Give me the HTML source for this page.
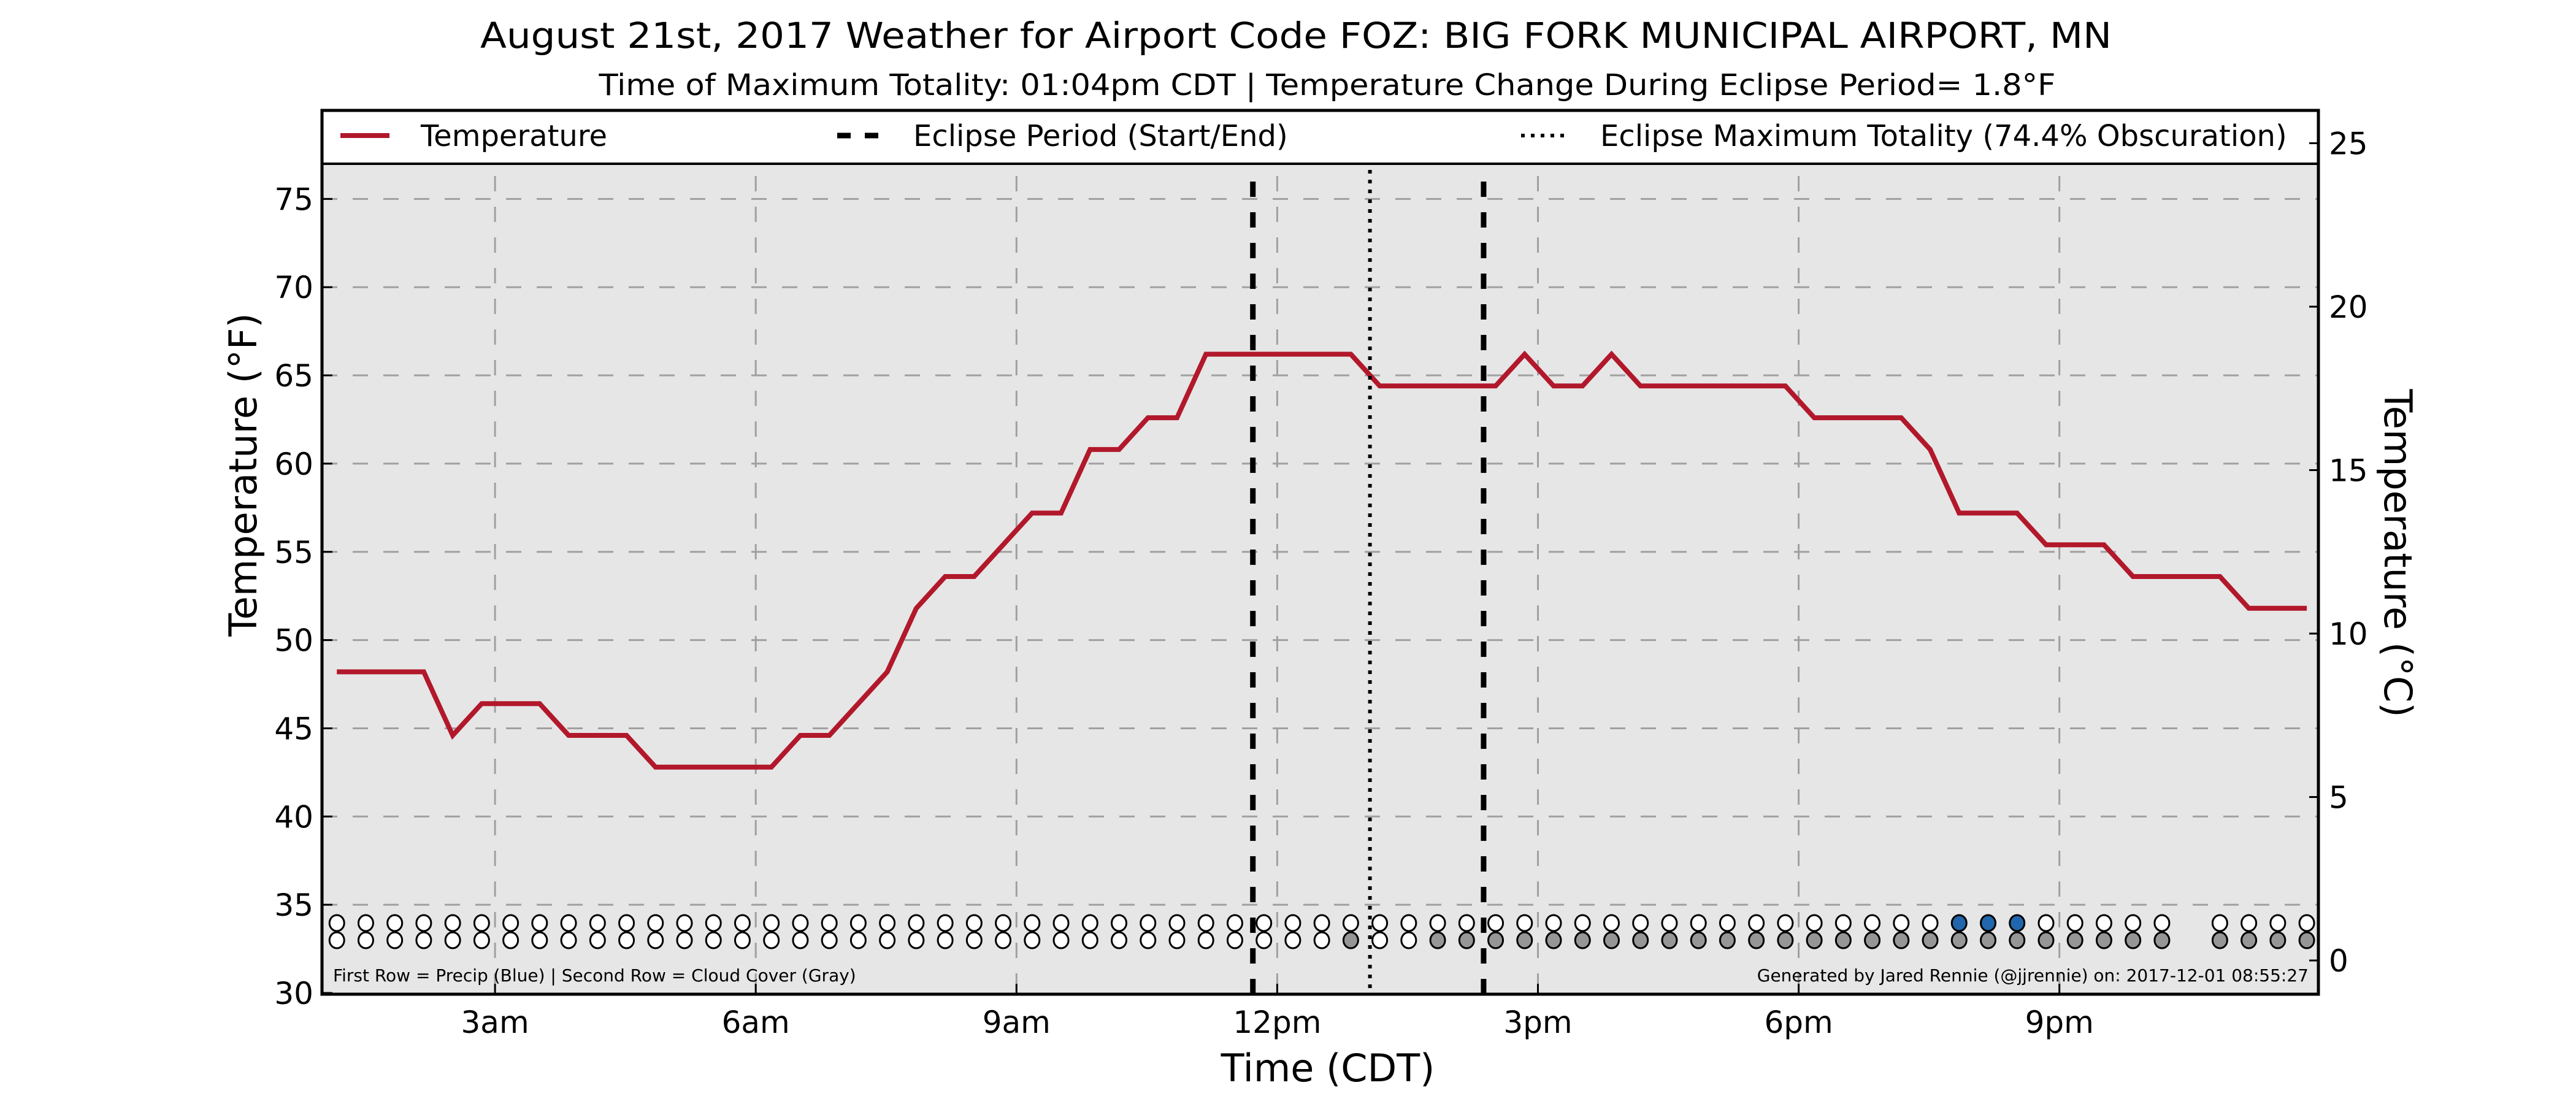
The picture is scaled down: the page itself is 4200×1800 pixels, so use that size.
<!DOCTYPE html>
<html><head><meta charset="utf-8"><style>
html,body{margin:0;padding:0;background:#fff;}
svg{display:block;font-family:"DejaVu Sans","Liberation Sans",sans-serif;}
</style></head><body>
<svg id="chart" xmlns="http://www.w3.org/2000/svg" width="4200" height="1800" viewBox="0 0 4200 1800">
<text x="2113" y="78" font-size="58" text-anchor="middle" textLength="2660" lengthAdjust="spacingAndGlyphs">August 21st, 2017 Weather for Airport Code FOZ: BIG FORK MUNICIPAL AIRPORT, MN</text>
<text x="2164" y="155" font-size="48" text-anchor="middle" textLength="2375" lengthAdjust="spacingAndGlyphs">Time of Maximum Totality: 01:04pm CDT | Temperature Change During Eclipse Period= 1.8°F</text>
<rect x="525" y="180" width="3255" height="1441" fill="#e6e6e6"/>
<g id="grid"></g>
<g id="marks"></g>
<rect x="525" y="180" width="3255" height="87" fill="#fff" stroke="#000" stroke-width="4"/>
<rect x="525" y="180" width="3255" height="1441" fill="none" stroke="#000" stroke-width="5"/>
<g id="axes"></g>
<g>
<line x1="555" y1="221" x2="635" y2="221" stroke="#b2182b" stroke-width="8"/>
<text x="686" y="238" font-size="48">Temperature</text>
<line x1="1365" y1="221" x2="1432" y2="221" stroke="#000" stroke-width="9" stroke-dasharray="22 23"/>
<text x="1489" y="238" font-size="48">Eclipse Period (Start/End)</text>
<line x1="2480" y1="221" x2="2557" y2="221" stroke="#000" stroke-width="6" stroke-dasharray="6 10"/>
<text x="2609" y="238" font-size="48">Eclipse Maximum Totality (74.4% Obscuration)</text>
</g>
<text x="543" y="1600" font-size="28">First Row = Precip (Blue) | Second Row = Cloud Cover (Gray)</text>
<text x="3764" y="1600" font-size="28" text-anchor="end">Generated by Jared Rennie (@jjrennie) on: 2017-12-01 08:55:27</text>
<text x="0" y="0" font-size="62" text-anchor="middle" transform="translate(418,774) rotate(-90)">Temperature (°F)</text>
<text x="0" y="0" font-size="62" text-anchor="middle" transform="translate(3888,902) rotate(90)">Temperature (°C)</text>
<text x="2165" y="1763" font-size="62" text-anchor="middle">Time (CDT)</text>
</svg>
<script>
// ---- data ----
const obsStartHour = 1.18;      // first observation (hours CDT)
const obsStepHour = 1/3;        // 20-minute observations
const tempF = [48.2,48.2,48.2,48.2,44.6,46.4,46.4,46.4,44.6,44.6,44.6,42.8,42.8,42.8,42.8,42.8,44.6,44.6,46.4,48.2,51.8,53.6,53.6,55.4,57.2,57.2,60.8,60.8,62.6,62.6,66.2,66.2,66.2,66.2,66.2,66.2,64.4,64.4,64.4,64.4,64.4,66.2,64.4,64.4,66.2,64.4,64.4,64.4,64.4,64.4,64.4,62.6,62.6,62.6,62.6,60.8,57.2,57.2,57.2,55.4,55.4,55.4,53.6,53.6,null,53.6,51.8,51.8,51.8];
const precip = [0,0,0,0,0,0,0,0,0,0,0,0,0,0,0,0,0,0,0,0,0,0,0,0,0,0,0,0,0,0,0,0,0,0,0,0,0,0,0,0,0,0,0,0,0,0,0,0,0,0,0,0,0,0,0,0,1,1,1,0,0,0,0,0,null,0,0,0,0];
const cloud = [0,0,0,0,0,0,0,0,0,0,0,0,0,0,0,0,0,0,0,0,0,0,0,0,0,0,0,0,0,0,0,0,0,0,0,1,0,0,1,1,1,1,1,1,1,1,1,1,1,1,1,1,1,1,1,1,1,1,1,1,1,1,1,1,null,1,1,1,1];
const eclipseStart = 11.72, eclipseMax = 13.067, eclipseEnd = 14.375;
const xTickHours = [3,6,9,12,15,18,21];
const xTickLabels = ["3am","6am","9am","12pm","3pm","6pm","9pm"];
const yTicksF = [30,35,40,45,50,55,60,65,70,75];
const yTicksC = [0,5,10,15,20,25];

// ---- scales ----
const L=525,R=3780,T=180,B=1621;
const xS = h => 382 + 141.7*h;
const yF = f => 1619 - 28.77*(f-30);
const yC = c => 1566 - 53.3*c;
const NS="http://www.w3.org/2000/svg";
function mk(tag, parent, attrs){const e=document.createElementNS(NS,tag);for(const k in attrs)e.setAttribute(k,attrs[k]);parent.appendChild(e);return e;}
const grid=document.getElementById('grid'), marks=document.getElementById('marks'), axes=document.getElementById('axes');

yTicksF.forEach(v=>{
  if(v>30){const g=mk('line',grid,{x1:L,x2:R,y1:yF(v),y2:yF(v),stroke:'#a0a0a0','stroke-width':3,'stroke-dasharray':'25 25'});
  
  }
  const t=mk('line',axes,{x1:L,x2:L+17,y1:yF(v),y2:yF(v),stroke:'#000','stroke-width':3});
  
  
  const lb=mk('text',axes,{x:L-14,y:yF(v)+18,'font-size':50,'text-anchor':'end'});
  
  
  lb.textContent=v;
});
yTicksC.forEach(v=>{
  const t=mk('line',axes,{x1:R-15,x2:R,y1:yC(v),y2:yC(v),stroke:'#000','stroke-width':3});
  
  
  const lb=mk('text',axes,{x:R+17,y:yC(v)+18,'font-size':50});
  
  
  lb.textContent=v;
});
xTickHours.forEach((h,i)=>{
  const g=mk('line',grid,{x1:xS(h),x2:xS(h),y1:T+87,y2:B,stroke:'#a0a0a0','stroke-width':3,'stroke-dasharray':'25 25','stroke-dashoffset':'-20'});
  
  
  const t=mk('line',axes,{x1:xS(h),x2:xS(h),y1:B-17,y2:B,stroke:'#000','stroke-width':3});
  
  
  const lb=mk('text',axes,{x:xS(h),y:1684,'font-size':50,'text-anchor':'middle'});
  
  
  lb.textContent=xTickLabels[i];
});

// temperature line
let d='';
tempF.forEach((v,i)=>{ if(v===null) return; d+=(d?'L':'M')+xS(obsStartHour+i*obsStepHour).toFixed(1)+','+yF(v).toFixed(1); });
const line=mk('path',marks,{d:d,fill:'none',stroke:'#b2182b','stroke-width':8,'stroke-linejoin':'miter'});



// eclipse lines
[[eclipseStart,'eclipse-start-line',296,'25 25',9],[eclipseEnd,'eclipse-end-line',296,'25 25',9],[eclipseMax,'eclipse-max-line',277,'6 10',6]].forEach(a=>{
  const e=mk('line',marks,{x1:xS(a[0]),x2:xS(a[0]),y1:a[2],y2:B,stroke:'#000','stroke-width':a[4],'stroke-dasharray':a[3]});
  
  
});

// precip / cloud dots
precip.forEach((p,i)=>{
  if(p===null) return;
  const cx=xS(obsStartHour+i*obsStepHour);
  const c1=mk('ellipse',marks,{cx:cx,cy:1505,rx:12,ry:13,fill:p?'#2166ac':'#fff',stroke:'#000','stroke-width':3});
  
  
  const c2=mk('ellipse',marks,{cx:cx,cy:1533,rx:12,ry:13,fill:cloud[i]?'#969696':'#fff',stroke:'#000','stroke-width':3});
  
  
});
</script>
</body></html>
